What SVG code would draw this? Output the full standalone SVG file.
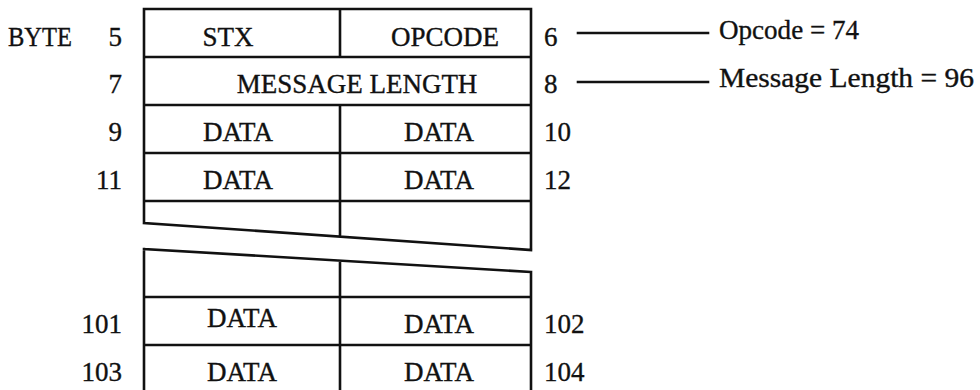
<svg xmlns="http://www.w3.org/2000/svg" width="980" height="390" viewBox="0 0 980 390">
<style>
  text { font-family: "Liberation Serif", "Times New Roman", serif; font-size: 27px; fill: #111; stroke: #111; stroke-width: 0.35; }
  .c { text-anchor: middle; }
  .r { text-anchor: end; }
  .ln { stroke: #111; stroke-width: 2.6; fill: none; stroke-linecap: square; }
</style>
<rect width="980" height="390" fill="#fff"/>
<g id="frame">
  <path class="ln" d="M144,9 H531 M144,9 V223 M531,9 V250 M340,9 V57 M144,57 H531 M144,105 H531 M340,105 V236 M144,153 H531 M144,201 H531 M144,223 L531,250"/>
  <path class="ln" d="M144,249 L531,272 M144,249 V390 M531,272 V390 M340,261 V390 M144,297 H531 M144,345 H531"/>
</g>
<g id="row-5-6">
  <text x="8" y="46" textLength="64" lengthAdjust="spacingAndGlyphs">BYTE</text>
  <text class="r" x="122" y="46">5</text>
  <text class="c" x="228" y="46">STX</text>
  <text class="c" x="445" y="46">OPCODE</text>
  <text x="544" y="46">6</text>
</g>
<g id="row-7-8">
  <text class="r" x="122" y="93">7</text>
  <text class="c" x="357" y="93">MESSAGE LENGTH</text>
  <text x="544" y="93">8</text>
</g>
<g id="row-9-10">
  <text class="r" x="122" y="141">9</text>
  <text class="c" x="238" y="141">DATA</text>
  <text class="c" x="439" y="141">DATA</text>
  <text x="544" y="141">10</text>
</g>
<g id="row-11-12">
  <text class="r" x="122" y="189">11</text>
  <text class="c" x="238" y="189">DATA</text>
  <text class="c" x="439" y="189">DATA</text>
  <text x="544" y="189">12</text>
</g>
<g id="row-101-102">
  <text class="r" x="122" y="333">101</text>
  <text class="c" x="242" y="327">DATA</text>
  <text class="c" x="439" y="333">DATA</text>
  <text x="544" y="333">102</text>
</g>
<g id="row-103-104">
  <text class="r" x="122" y="381">103</text>
  <text class="c" x="242" y="381">DATA</text>
  <text class="c" x="439" y="381">DATA</text>
  <text x="544" y="381">104</text>
</g>
<g id="connectors">
  <line class="ln" x1="578" y1="33" x2="708" y2="33"/>
  <line class="ln" x1="578" y1="82" x2="708" y2="82"/>
</g>
<g id="opcode-note">
  <text x="719" y="39" textLength="140" lengthAdjust="spacingAndGlyphs">Opcode = 74</text>
</g>
<g id="length-note">
  <text x="719" y="87" textLength="255" lengthAdjust="spacingAndGlyphs">Message Length = 96</text>
</g>
</svg>
